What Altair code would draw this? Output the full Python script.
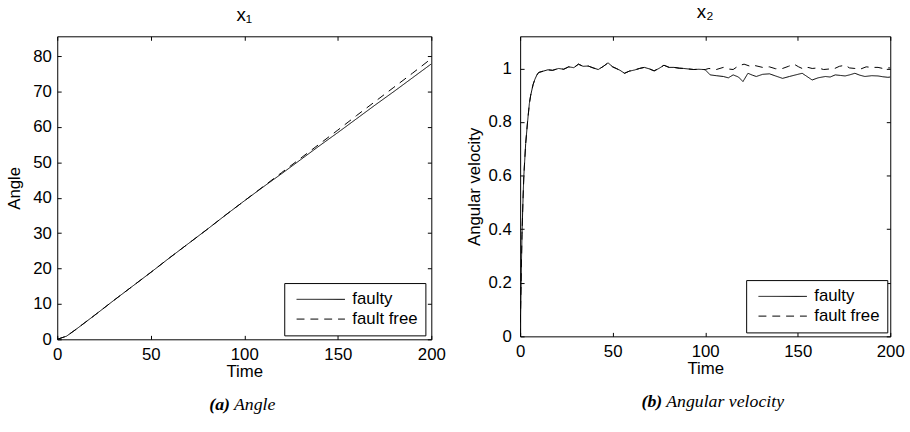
import altair as alt
import pandas as pd

FONT = "Liberation Sans"
SERIF = "Liberation Serif"

series_names = ["faulty", "fault free"]
x_ticks = [0, 50, 100, 150, 200]
angle_ticks = [0, 10, 20, 30, 40, 50, 60, 70, 80]
vel_ticks = [0, 0.2, 0.4, 0.6, 0.8, 1]
panel_titles = ["x\u2081", "x\u2082"]
caption_tags = ["(a)", "(b)"]
caption_texts = ["Angle", "Angular velocity"]
y_titles = ["Angle", "Angular velocity"]

# ---- left panel: angle ----
angle_t = [0, 5, 10, 20, 30, 40, 50, 60, 70, 80, 90, 100,
           110, 120, 130, 140, 150, 160, 170, 180, 190, 200]
angle_faulty = [0, 0.9, 2.8, 6.8, 10.9, 14.9, 18.9, 23.0, 27.0, 31.0, 35.1, 39.1,
                43.0, 46.8, 50.7, 54.6, 58.4, 62.3, 66.2, 70.0, 73.9, 77.8]
angle_free = [0, 0.9, 2.8, 6.8, 10.9, 14.9, 18.9, 23.0, 27.0, 31.0, 35.1, 39.1,
              43.1, 47.1, 51.1, 55.1, 59.1, 63.2, 67.2, 71.2, 75.2, 79.3]

# ---- right panel: angular velocity ----
vel_t_common = [0, 0.5, 1, 1.5, 2, 3, 4, 5, 5.7, 7, 8, 9, 10,
                12.5, 15, 17.5, 20.8, 23.5, 26.2, 29, 31.5, 34, 36.8, 39.5, 42.2,
                45, 47.5, 50, 51.9, 54, 56.4, 59, 61.7, 64.5, 67.1, 70, 72.4,
                75, 77.7, 80.5, 83.1, 86, 88.4, 91, 93.8, 96.5, 99.1]
vel_common = [0, 0.2, 0.38, 0.5, 0.6, 0.72, 0.8, 0.87, 0.9, 0.94, 0.96, 0.975, 0.985,
              0.99, 0.995, 0.993, 1.0, 0.997, 1.006, 1.003, 1.016, 1.008, 1.009, 1.002, 0.996,
              1.008, 1.021, 1.006, 1.0, 0.993, 0.982, 0.99, 0.994, 1.0, 1.004, 0.998, 0.991,
              1.0, 1.012, 1.004, 1.004, 1.001, 1.0, 0.998, 0.996, 0.997, 0.996]
vel_t_faulty_tail = [100, 102.7, 106, 109.8, 112.5, 115.1, 118, 120.4, 123.1, 125.5,
                     127.6, 131, 134.7, 138, 141.8, 145.5, 148.9, 152.4, 155, 157.8,
                     161, 164.9, 167.5, 170.3, 173, 175.6, 178, 180.9, 183.5, 186.3,
                     190, 193.4, 196, 198.7, 200]
vel_faulty_tail = [0.995, 0.976, 0.973, 0.97, 0.965, 0.976, 0.968, 0.951, 0.982, 0.975,
                   0.97, 0.978, 0.98, 0.972, 0.963, 0.97, 0.976, 0.982, 0.97, 0.957,
                   0.965, 0.97, 0.968, 0.976, 0.974, 0.972, 0.976, 0.982, 0.975, 0.97,
                   0.973, 0.972, 0.969, 0.967, 0.968]
vel_t_free_tail = [100, 102, 106, 109.8, 112.5, 115.1, 118, 121, 124, 126, 128, 131,
                   134.7, 138, 141.8, 145, 148, 150.5, 153, 155.5, 157.8, 161, 164,
                   167, 170, 172.5, 175.6, 178, 180.9, 184, 187, 190, 193.4, 196,
                   198.7, 200]
vel_free_tail = [0.996, 1.0, 0.996, 1.004, 0.998, 0.996, 1.01, 1.016, 1.009, 1.012, 1.009,
                 1.004, 1.006, 0.999, 1.0, 1.008, 1.016, 1.006, 0.998, 1.004, 1.0, 1.002,
                 0.996, 0.998, 1.0, 1.008, 1.012, 1.002, 1.0, 0.998, 1.006, 1.004, 1.004,
                 1.0, 1.002, 1.002]


def long_df(pairs):
    rows = []
    for name, ts, vs in pairs:
        for t, v in zip(ts, vs):
            rows.append({"t": t, "v": v, "series": name})
    return pd.DataFrame(rows)


angle_df = long_df([
    (series_names[0], angle_t, angle_faulty),
    (series_names[1], angle_t, angle_free),
])
vel_df = long_df([
    (series_names[0], vel_t_common + vel_t_faulty_tail, vel_common + vel_faulty_tail),
    (series_names[1], vel_t_common + vel_t_free_tail, vel_common + vel_free_tail),
])


def panel(df, W, H, ydom, yticks, ytitle, title, title_offset, lx, ly,
          tag, text, tag_x, text_x, cap_y, ytitle_pad, ylabel_pad):
    xs = alt.Scale(domain=[0, 200], nice=False, zero=False)
    ys = alt.Scale(domain=ydom, nice=False, zero=False)
    base = alt.Chart(df)
    lines = base.mark_line(color="black", strokeWidth=1, clip=True).encode(
        x=alt.X("t:Q", scale=xs, title="Time",
                axis=alt.Axis(values=x_ticks, ticks=False, tickSize=0, labelPadding=7,
                              titlePadding=2, domain=False, grid=False, format="~f",
                              labelFlush=False, labelOverlap=False)),
        y=alt.Y("v:Q", scale=ys, title=ytitle,
                axis=alt.Axis(values=yticks, ticks=False, tickSize=0, labelPadding=ylabel_pad,
                              titlePadding=ytitle_pad, domain=False, grid=False, format="~f",
                              labelFlush=False, labelOverlap=False)),
        strokeDash=alt.StrokeDash(
            "series:N",
            scale=alt.Scale(domain=series_names, range=[[1, 0], [8, 6]]),
            legend=alt.Legend(orient="none", legendX=lx, legendY=ly, title=None,
                              fillColor="white", strokeColor="black", padding=7,
                              labelFont=FONT, labelFontSize=17, labelColor="black",
                              labelExpr="datum.label + ' '",
                              symbolType="stroke", symbolSize=2400, symbolStrokeWidth=1,
                              symbolStrokeColor="black", labelOffset=7, rowPadding=1,
                              clipHeight=19, symbolOffset=5),
        ),
    )
    ticks_in_a = base.mark_line(opacity=0).encode(
        x=alt.X("t:Q", scale=xs, title=None,
                axis=alt.Axis(values=x_ticks, orient="top", offset=-H, labels=False,
                              domain=False, grid=False, tickSize=4, tickColor="black")),
        y=alt.Y("v:Q", scale=ys, title=None,
                axis=alt.Axis(values=yticks, orient="right", offset=-W, labels=False,
                              domain=False, grid=False, tickSize=4, tickColor="black")),
    )
    ticks_in_b = base.mark_line(opacity=0).encode(
        x=alt.X("t:Q", scale=xs, title=None,
                axis=alt.Axis(values=x_ticks, orient="bottom", offset=-H, labels=False,
                              domain=False, grid=False, tickSize=4, tickColor="black")),
        y=alt.Y("v:Q", scale=ys, title=None,
                axis=alt.Axis(values=yticks, orient="left", offset=-W, labels=False,
                              domain=False, grid=False, tickSize=4, tickColor="black")),
    )
    cap_df = pd.DataFrame({"tag": [tag], "text": [text]})
    cap_tag = alt.Chart(cap_df).mark_text(
        font=SERIF, fontSize=18, fontStyle="italic", fontWeight="bold",
        align="right", baseline="middle", color="black"
    ).encode(x=alt.value(tag_x), y=alt.value(cap_y), text="tag:N")
    cap_text = alt.Chart(cap_df).mark_text(
        font=SERIF, fontSize=18, fontStyle="italic", fontWeight="normal",
        align="left", baseline="middle", color="black"
    ).encode(x=alt.value(text_x), y=alt.value(cap_y), text="text:N")
    return alt.layer(lines, ticks_in_a, ticks_in_b, cap_tag, cap_text).resolve_axis(
        x="independent", y="independent"
    ).properties(
        width=W, height=H,
        title=alt.Title(title, offset=title_offset, fontSize=19, font=FONT,
                        fontWeight="normal", color="black", anchor="middle"),
    )


left = panel(angle_df, 379, 307, [0, 85.6], angle_ticks, y_titles[0], panel_titles[0], 11,
             230, 250, caption_tags[0], caption_texts[0], 175, 179, 374, 9, 6)
right = panel(vel_df, 375, 304, [0, 1.12], vel_ticks, y_titles[1], panel_titles[1], 14,
              229, 247, caption_tags[1], caption_texts[1], 144, 148, 371, 5, 9)

chart = alt.hconcat(left, right, spacing=18).resolve_scale(
    strokeDash="independent"
).resolve_legend(strokeDash="independent").configure_view(
    stroke="black", strokeWidth=1
).configure_axis(
    labelFont=FONT, labelFontSize=17, labelColor="black",
    titleFont=FONT, titleFontSize=17, titleColor="black", titleFontWeight="normal"
).properties(
    background="white",
    padding={"left": 5, "top": 0, "right": 5, "bottom": 5},
)

chart.save("out.html", embed_options={"renderer": "svg", "actions": False})
